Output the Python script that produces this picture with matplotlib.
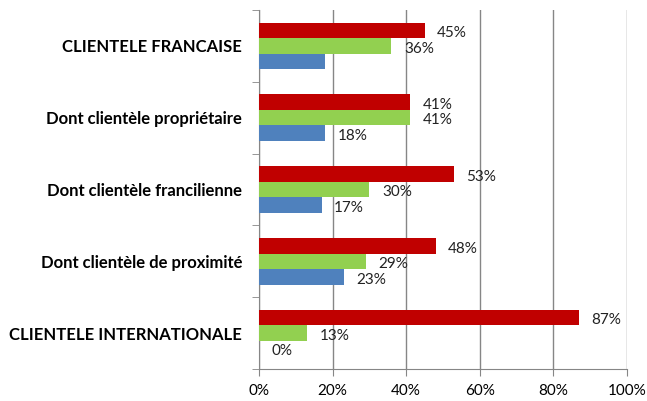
import numpy as np
import matplotlib
matplotlib.use('Agg')
import matplotlib.pyplot as plt

categories = ['CLIENTELE FRANCAISE', 'Dont clientèle propriétaire',
              'Dont clientèle francilienne', 'Dont clientèle de proximité',
              'CLIENTELE INTERNATIONALE']
red_vals = [45, 41, 53, 48, 87]
green_vals = [36, 41, 30, 29, 13]
blue_vals = [18, 18, 17, 23, 0]
blue_labels = ['', '18%', '17%', '23%', '0%']

plt.rcParams['font.family'] = ['Lato', 'DejaVu Sans']

fig = plt.figure(figsize=(6.47, 4.01), dpi=100)
ax = fig.add_axes([0.4003, 0.0798, 0.5688, 0.8952])

n = len(categories)
pos = np.arange(n)[::-1].astype(float)
h = 0.216
grid_c = '#868686'

series = [(red_vals, '#C00000', h, [f'{v}%' for v in red_vals]),
          (green_vals, '#92D050', 0.0, [f'{v}%' for v in green_vals]),
          (blue_vals, '#4F81BD', -h, blue_labels)]
for vals, col, off, labs in series:
    ax.barh(pos + off, vals, height=h, color=col, edgecolor='none', zorder=3)
    for y, v, lab in zip(pos + off, vals, labs):
        if lab:
            ax.annotate(lab, (v, y), xytext=(9, -2), textcoords='offset points',
                        ha='left', va='center', fontsize=11, color='#222222')

ax.set_xlim(0, 100)
ax.set_ylim(-0.5, n - 0.5)
ax.set_xticks(np.arange(0, 101, 20))
ax.set_xticklabels([f'{t}%' for t in range(0, 101, 20)], fontsize=11)
ax.xaxis.grid(True, color=grid_c, lw=1.0, zorder=0)

ax.set_yticks(pos)
ax.set_yticklabels(categories, fontsize=12, fontweight='bold')
ax.set_yticks(np.arange(-0.5, n, 1.0), minor=True)
ax.tick_params(axis='y', which='major', length=0, pad=12)
ax.tick_params(axis='y', which='minor', length=5, color=grid_c)
ax.tick_params(axis='x', length=5, color=grid_c, pad=6)

for s in ['top', 'right']:
    ax.spines[s].set_visible(False)
for s in ['left', 'bottom']:
    ax.spines[s].set_color(grid_c)

fig.savefig('out.png', dpi=100)
